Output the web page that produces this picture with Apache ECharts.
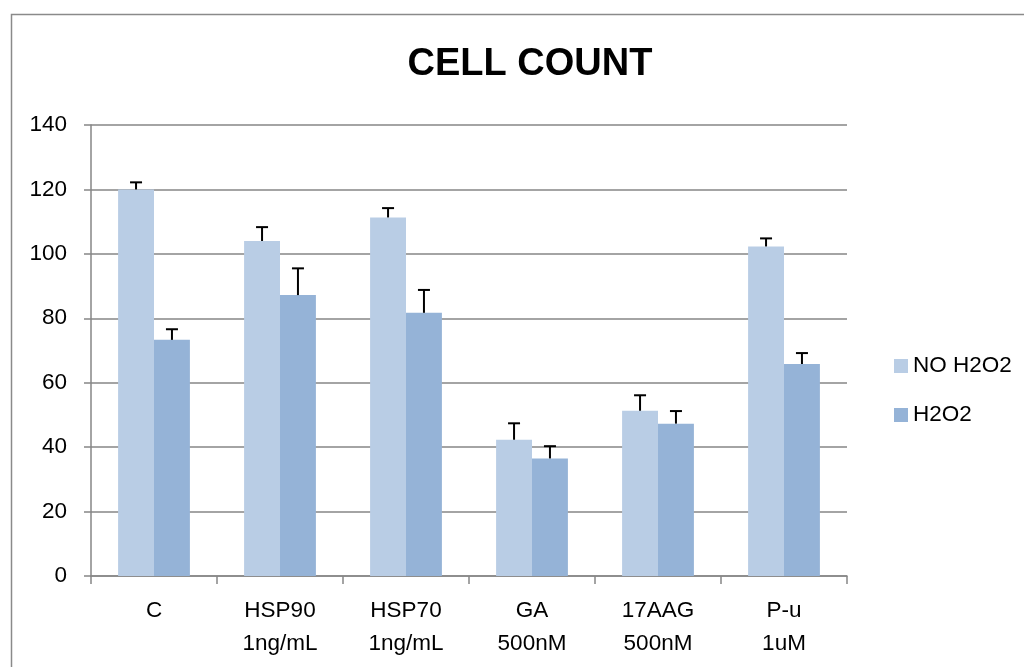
<!DOCTYPE html>
<html>
<head>
<meta charset="utf-8">
<script src="https://cdn.jsdelivr.net/npm/echarts@6/dist/echarts.min.js"></script>
<style>
html,body{margin:0;padding:0;background:#fff;}
#chart{width:1024px;height:667px;}
</style>
</head>
<body>
<div id="chart"></div>
<script>
var categories = ['C', 'HSP90\n1ng/mL', 'HSP70\n1ng/mL', 'GA\n500nM', '17AAG\n500nM', 'P-u\n1uM'];
var seriesNames = ['NO H2O2', 'H2O2'];
var noH2O2 = [120, 104, 111.3, 42.3, 51.3, 102.3];
var noH2O2Err = [2.2, 4.3, 2.9, 5.1, 4.8, 2.5];
var h2o2 = [73.3, 87.2, 81.7, 36.5, 47.3, 65.8];
var h2o2Err = [3.3, 8.3, 7.1, 3.8, 3.9, 3.4];
var yTicks = {min: 0, max: 140, interval: 20};

var FONT = 'Liberation Sans';
var GAP = 0.43;

function errData(vals, errs) {
  return vals.map(function (v, i) { return [i, v, v + errs[i]]; });
}

function errRender(sign) {
  return function (params, api) {
    var i = api.value(0);
    var base = api.coord([i, api.value(1)]);
    var top = api.coord([i, api.value(2)]);
    var band = api.size([1, 0])[0];
    var barW = band * (1 - GAP) / 2;
    var x = base[0] + sign * barW / 2;
    var cap = 6;
    return {
      type: 'group',
      children: [
        {type: 'line', shape: {x1: x, y1: base[1], x2: x, y2: top[1]}, style: {stroke: '#000', lineWidth: 2}},
        {type: 'line', shape: {x1: x - cap, y1: top[1], x2: x + cap, y2: top[1]}, style: {stroke: '#000', lineWidth: 2}}
      ]
    };
  };
}

var chart = echarts.init(document.getElementById('chart'), null, {renderer: 'canvas'});
chart.setOption({
  animation: false,
  backgroundColor: '#fff',
  textStyle: {fontFamily: FONT},
  graphic: [{
    type: 'rect', left: 9, top: 12, z: -1,
    shape: {width: 1200, height: 900},
    style: {fill: 'none', stroke: '#8a8a8a', lineWidth: 1.5}
  }],
  title: {
    text: 'CELL COUNT',
    left: 525, top: 41, textAlign: 'center',
    textStyle: {fontFamily: FONT, fontWeight: 'bold', fontSize: 38, color: '#000'}
  },
  legend: {
    orient: 'vertical',
    left: 889, top: 348,
    itemWidth: 14, itemHeight: 14, itemGap: 23,
    icon: 'rect',
    data: seriesNames,
    textStyle: {fontFamily: FONT, fontSize: 22.5, color: '#000', lineHeight: 26}
  },
  grid: {left: 91, right: 177, top: 125, bottom: 91, containLabel: false},
  xAxis: {
    type: 'category',
    data: categories,
    axisLine: {show: true, lineStyle: {color: '#868686', width: 1.5}},
    axisTick: {show: true, length: 8, lineStyle: {color: '#868686', width: 1.5}},
    axisLabel: {fontFamily: FONT, fontSize: 22.5, color: '#000', lineHeight: 33, margin: 18, interval: 0}
  },
  yAxis: {
    type: 'value',
    min: yTicks.min, max: yTicks.max, interval: yTicks.interval,
    axisLine: {show: true, lineStyle: {color: '#868686', width: 1.5}},
    axisTick: {show: true, length: 7, lineStyle: {color: '#868686', width: 1.5}},
    splitLine: {show: true, lineStyle: {color: '#868686', width: 1.5}},
    axisLabel: {fontFamily: FONT, fontSize: 22.5, color: '#000', margin: 24}
  },
  series: [
    {
      name: seriesNames[0], type: 'bar', data: noH2O2,
      barGap: '0%', barCategoryGap: (GAP * 100) + '%',
      itemStyle: {color: '#B9CDE5'}
    },
    {
      name: seriesNames[1], type: 'bar', data: h2o2,
      barGap: '0%', barCategoryGap: (GAP * 100) + '%',
      itemStyle: {color: '#95B3D7'}
    },
    {
      type: 'custom', name: 'err1', data: errData(noH2O2, noH2O2Err),
      renderItem: errRender(-1), z: 5, silent: true,
      encode: {x: 0, y: [1, 2]}
    },
    {
      type: 'custom', name: 'err2', data: errData(h2o2, h2o2Err),
      renderItem: errRender(1), z: 5, silent: true,
      encode: {x: 0, y: [1, 2]}
    }
  ]
});
</script>
</body>
</html>
